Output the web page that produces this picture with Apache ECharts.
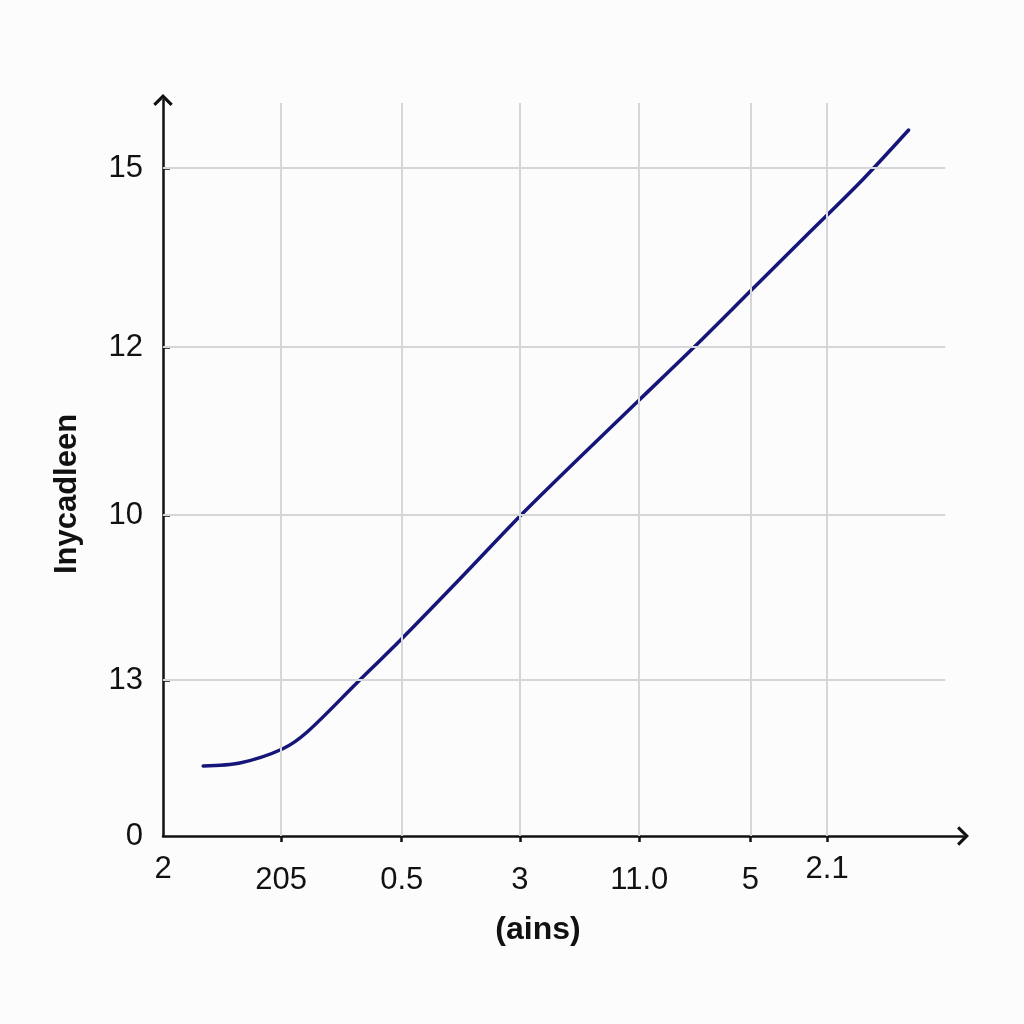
<!DOCTYPE html>
<html>
<head>
<meta charset="utf-8">
<script src="https://cdn.jsdelivr.net/npm/echarts@6/dist/echarts.min.js"></script>
<style>
html,body{margin:0;padding:0;background:#fcfcfc;}
#c{width:1024px;height:1024px;}
</style>
</head>
<body>
<div id="c"></div>
<script>
// tick positions (axis units) and their printed labels
var xTickPos = [0, 1.0, 2.02, 3.02, 4.03, 4.97, 5.62];
var xTickLabels = ['2', '205', '0.5', '3', '11.0', '5', '2.1'];
var xRaised = ['2', '2.1'];
var yTickPos = [0, 15.6, 32.1, 48.9, 66.8];
var yTickLabels = ['0', '13', '10', '12', '15'];
// curve
var lineX = [0.34, 0.65, 1.01, 1.22, 1.64, 2.01, 2.52, 3.03, 3.53, 4.03, 4.53, 4.98, 5.44, 5.91, 6.31];
var lineY = [7.0, 7.3, 8.7, 10.4, 15.3, 19.6, 25.8, 32.1, 37.9, 43.6, 49.3, 54.6, 60.0, 65.5, 70.6];
var xName = '(ains)';
var yName = 'Inycadleen';

var X_MAX = 6.77, Y_MAX = 73.6, GRID_X_END = 6.62, GRID_Y_END = 73.3;
var FONT = '"Liberation Sans", Arial, Helvetica, sans-serif';
var chevron = 'path://M0,11 L11,0 L22,11 L19.5,13.5 L11,5 L2.5,13.5 Z';

function lookup(pos, labels, v) {
  var best = 0, bd = Infinity;
  for (var i = 0; i < pos.length; i++) {
    var d = Math.abs(pos[i] - v);
    if (d < bd) { bd = d; best = i; }
  }
  return labels[best];
}

var gridLines = [];
xTickPos.slice(1).forEach(function (x) {
  gridLines.push([{coord: [x, 0]}, {coord: [x, GRID_Y_END]}]);
});
yTickPos.slice(1).forEach(function (y) {
  gridLines.push([{coord: [0, y]}, {coord: [GRID_X_END, y]}]);
});

var chart = echarts.init(document.getElementById('c'));
chart.setOption({
  backgroundColor: '#fcfcfc',
  animation: false,
  grid: {left: 163, top: 100, right: 1024 - 963, bottom: 1024 - 836, containLabel: false},
  xAxis: {
    type: 'value', min: 0, max: X_MAX,
    name: xName, nameLocation: 'middle', nameGap: 78,
    nameTextStyle: {fontFamily: FONT, fontSize: 32, fontWeight: 'bold', color: '#111', padding: [0, 50, 0, 0]},
    splitLine: {show: false},
    axisLine: {lineStyle: {color: '#111', width: 2.5}, symbol: ['none', chevron], symbolSize: [22, 12]},
    axisTick: {show: true, length: 6, lineStyle: {color: '#111', width: 2.5}, customValues: xTickPos.slice(1)},
    axisLabel: {
      customValues: xTickPos, margin: 18, fontFamily: FONT, fontSize: 31, color: '#111',
      formatter: function (v) {
        var t = lookup(xTickPos, xTickLabels, v);
        return (xRaised.indexOf(t) >= 0 ? '{r|' : '{n|') + t + '}';
      },
      rich: {
        r: {fontFamily: FONT, fontSize: 31, color: '#111', padding: [0, 0, 0, 0]},
        n: {fontFamily: FONT, fontSize: 31, color: '#111', padding: [11, 0, 0, 0]}
      }
    }
  },
  yAxis: {
    type: 'value', min: 0, max: Y_MAX,
    name: yName, nameLocation: 'middle', nameGap: 80,
    nameTextStyle: {fontFamily: FONT, fontSize: 31, fontWeight: 'bold', color: '#111', padding: [0, 52, 0, 0]},
    splitLine: {show: false},
    axisLine: {lineStyle: {color: '#111', width: 2.5}, symbol: ['none', chevron], symbolSize: [22, 12]},
    axisTick: {show: true, inside: true, length: 7, lineStyle: {color: '#111', width: 2.5}, customValues: yTickPos.slice(1)},
    axisLabel: {
      customValues: yTickPos, margin: 20, fontFamily: FONT, fontSize: 31, color: '#111',
      formatter: function (v) { return lookup(yTickPos, yTickLabels, v); }
    }
  },
  series: [
    {
      type: 'line', data: [], z: 1, silent: true,
      markLine: {
        silent: true, symbol: ['none', 'none'], label: {show: false},
        lineStyle: {color: '#d4d6d8', width: 2, type: 'solid'},
        data: gridLines
      }
    },
    {
      type: 'line', z: 3, smooth: 0.3, showSymbol: false,
      lineStyle: {color: '#16167a', width: 3.5, cap: 'round'},
      data: lineX.map(function (x, i) { return [x, lineY[i]]; })
    }
  ]
});
</script>
</body>
</html>
